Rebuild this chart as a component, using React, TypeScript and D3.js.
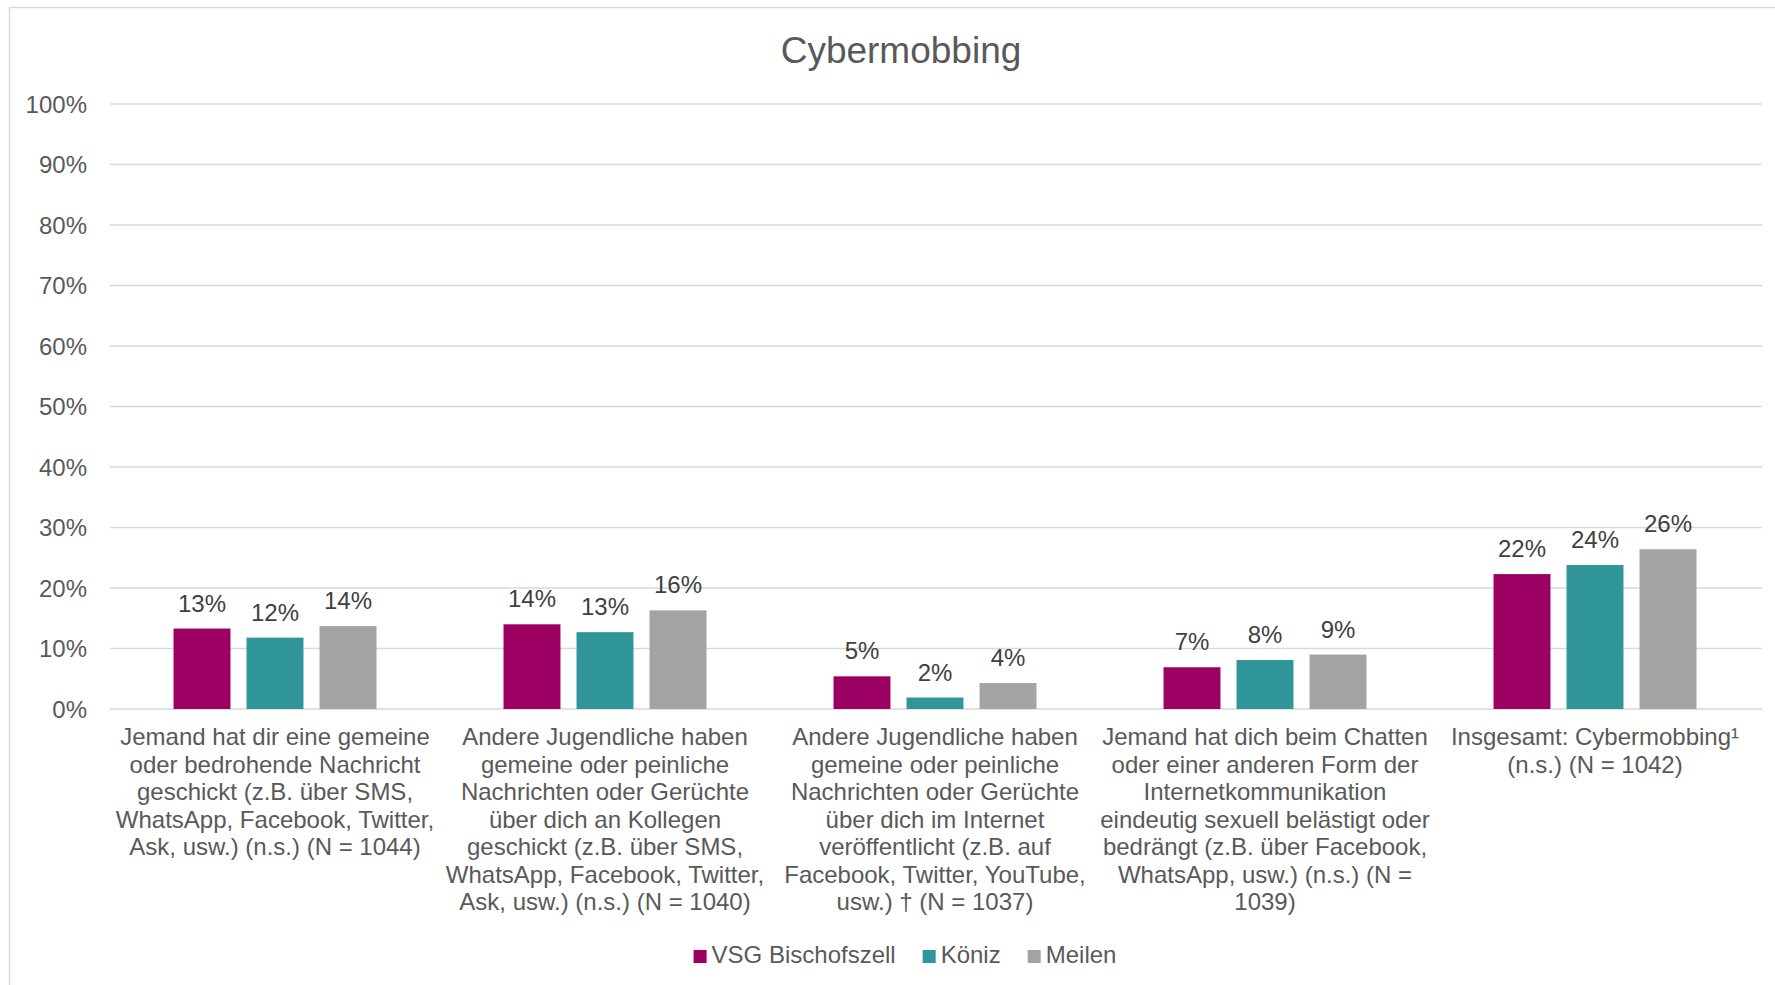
import React, { useEffect, useRef } from "react";
import * as d3 from "d3";

const categories: string[][] = [
  ["Jemand hat dir eine gemeine", "oder bedrohende Nachricht", "geschickt (z.B. über SMS,", "WhatsApp, Facebook, Twitter,", "Ask, usw.) (n.s.) (N = 1044)"],
  ["Andere Jugendliche haben", "gemeine oder peinliche", "Nachrichten oder Gerüchte", "über dich an Kollegen", "geschickt (z.B. über SMS,", "WhatsApp, Facebook, Twitter,", "Ask, usw.) (n.s.) (N = 1040)"],
  ["Andere Jugendliche haben", "gemeine oder peinliche", "Nachrichten oder Gerüchte", "über dich im Internet", "veröffentlicht (z.B. auf", "Facebook, Twitter, YouTube,", "usw.) † (N = 1037)"],
  ["Jemand hat dich beim Chatten", "oder einer anderen Form der", "Internetkommunikation", "eindeutig sexuell belästigt oder", "bedrängt (z.B. über Facebook,", "WhatsApp, usw.) (n.s.) (N =", "1039)"],
  ["Insgesamt: Cybermobbing¹", "(n.s.) (N = 1042)"],
];

const seriesNames = ["VSG Bischofszell", "Köniz", "Meilen"];
const seriesColors = ["#9C0062", "#31969A", "#A3A3A3"];

const vsgBischofszell = [0.133, 0.14, 0.054, 0.069, 0.223];
const koeniz = [0.118, 0.127, 0.019, 0.081, 0.238];
const meilen = [0.137, 0.163, 0.043, 0.09, 0.264];
const seriesValues = [vsgBischofszell, koeniz, meilen];

const yTicks = [0, 0.1, 0.2, 0.3, 0.4, 0.5, 0.6, 0.7, 0.8, 0.9, 1.0];

const W = 1775;
const H = 985;
const FONT = "'Liberation Sans', Arial, sans-serif";
const TEXT = "#595959";

export default function App() {
  const ref = useRef<SVGSVGElement | null>(null);

  useEffect(() => {
    const svg = d3.select(ref.current);
    svg.selectAll("*").remove();

    const left = 110, right = 1760, top = 104, bottom = 709;

    // frame
    svg.append("rect").attr("x", 9.5).attr("y", 7.5).attr("width", W).attr("height", H)
      .attr("fill", "#fff").attr("stroke", "#D9D9D9").attr("stroke-width", 1.5);

    // title
    svg.append("text").attr("x", 901).attr("y", 63).attr("text-anchor", "middle")
      .attr("font-family", FONT).attr("font-size", 37).attr("fill", TEXT).text("Cybermobbing");

    const y = d3.scaleLinear().domain([0, 1]).range([bottom, top]);
    const idx = categories.map((_, i) => i);
    const x0 = d3.scaleBand<number>().domain(idx).range([left, right]).padding(0);
    const x1 = d3.scaleBand<number>().domain([0, 1, 2]).range([0, x0.bandwidth()])
      .paddingInner(0.22).paddingOuter(0.87);

    // grid
    svg.append("g").selectAll("line").data(yTicks).join("line")
      .attr("x1", left).attr("x2", right + 2)
      .attr("y1", (d) => y(d)).attr("y2", (d) => y(d))
      .attr("stroke", "#D9D9D9").attr("stroke-width", 1.5);

    // y labels
    svg.append("g").selectAll("text").data(yTicks).join("text")
      .attr("x", 87).attr("y", (d) => y(d) + 8.5).attr("text-anchor", "end")
      .attr("font-family", FONT).attr("font-size", 24).attr("fill", TEXT)
      .text((d) => d3.format(".0%")(d));

    // bars
    const fmt = d3.format(".0%");
    seriesValues.forEach((vals, s) => {
      const g = svg.append("g");
      g.selectAll("rect").data(vals).join("rect")
        .attr("x", (_, i) => (x0(i) as number) + (x1(s) as number))
        .attr("width", x1.bandwidth())
        .attr("y", (d) => y(d))
        .attr("height", (d) => y(0) - y(d))
        .attr("fill", seriesColors[s]);
      g.selectAll("text").data(vals).join("text")
        .attr("x", (_, i) => (x0(i) as number) + (x1(s) as number) + x1.bandwidth() / 2)
        .attr("y", (d) => y(d) - 17)
        .attr("text-anchor", "middle")
        .attr("font-family", FONT).attr("font-size", 24).attr("fill", "#404040")
        .text((d) => fmt(d));
    });

    // category labels
    categories.forEach((lines, i) => {
      const t = svg.append("text")
        .attr("text-anchor", "middle").attr("font-family", FONT)
        .attr("font-size", 24).attr("fill", TEXT);
      lines.forEach((ln, k) => {
        t.append("tspan").attr("x", (x0(i) as number) + x0.bandwidth() / 2)
          .attr("y", 745 + k * 27.5).text(ln);
      });
    });

    // legend
    const lg = svg.append("g");
    const items = seriesNames.map((n, s) => {
      const g = lg.append("g");
      g.append("rect").attr("x", 0).attr("y", -13).attr("width", 13).attr("height", 13)
        .attr("fill", seriesColors[s]);
      const t = g.append("text").attr("x", 18).attr("y", 0)
        .attr("font-family", FONT).attr("font-size", 24).attr("fill", TEXT).text(n);
      const w = 18 + (t.node() as SVGTextElement).getComputedTextLength();
      return { g, w };
    });
    const gap = 27;
    const total = d3.sum(items, (d) => d.w) + gap * (items.length - 1);
    let cx = 905 - total / 2;
    items.forEach((it) => {
      it.g.attr("transform", `translate(${cx},963)`);
      cx += it.w + gap;
    });
  }, []);

  return (
    <svg ref={ref} width={W} height={H}
      style={{ position: "absolute", left: 0, top: 0, background: "#fff" }} />
  );
}
